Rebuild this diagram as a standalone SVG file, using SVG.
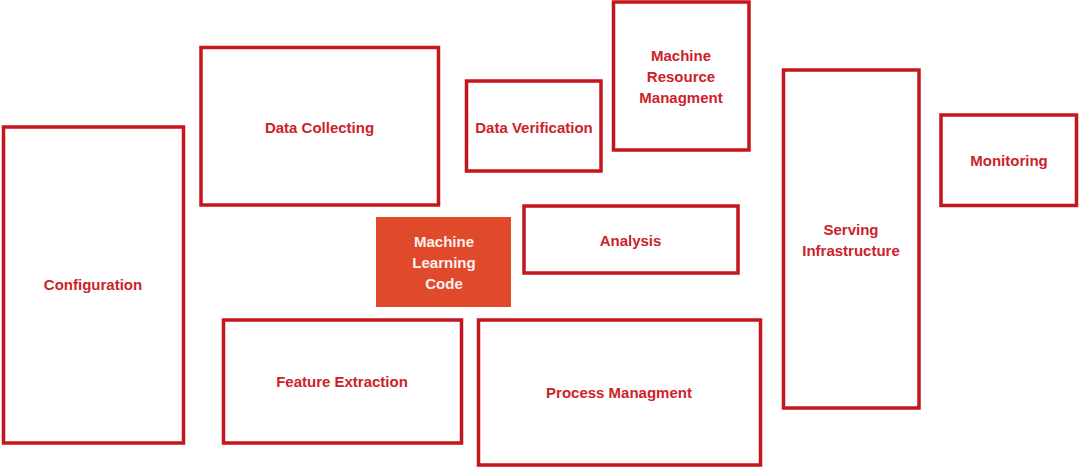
<svg xmlns="http://www.w3.org/2000/svg" width="1080" height="469" viewBox="0 0 1080 469">
<style>
.box{fill:#ffffff;stroke:#c4161c;stroke-width:3.5}
.lbl{font-family:"Liberation Sans",Arial,sans-serif;font-weight:bold;font-size:15px;fill:#cc2229;text-anchor:middle;dominant-baseline:central}
.core{fill:#e04a2b}
.wlbl{font-family:"Liberation Sans",Arial,sans-serif;font-weight:bold;font-size:15px;fill:#fdf0ee;text-anchor:middle;dominant-baseline:central}
</style>
<rect width="1080" height="469" fill="#ffffff"/>
<g id="configuration"><rect class="box" x="3.5" y="127" width="180" height="316"/><text class="lbl" x="93" y="284">Configuration</text></g>
<g id="data-collecting"><rect class="box" x="201" y="47.5" width="237.5" height="157.5"/><text class="lbl" x="319.5" y="127">Data Collecting</text></g>
<g id="data-verification"><rect class="box" x="466.5" y="81" width="134.5" height="90"/><text class="lbl" x="534" y="127">Data Verification</text></g>
<g id="machine-resource"><rect class="box" x="613.5" y="2" width="135.5" height="148"/><text class="lbl" x="681" y="55">Machine</text><text class="lbl" x="681" y="76">Resource</text><text class="lbl" x="681" y="97">Managment</text></g>
<g id="serving"><rect class="box" x="783.5" y="70" width="135.5" height="338"/><text class="lbl" x="851" y="229">Serving</text><text class="lbl" x="851" y="250">Infrastructure</text></g>
<g id="monitoring"><rect class="box" x="941" y="115" width="135.5" height="90.5"/><text class="lbl" x="1009" y="160.5">Monitoring</text></g>
<g id="analysis"><rect class="box" x="524" y="206" width="214" height="67"/><text class="lbl" x="630.5" y="240">Analysis</text></g>
<g id="ml-code"><rect class="core" x="376" y="217" width="135" height="90"/><text class="wlbl" x="444" y="241">Machine</text><text class="wlbl" x="444" y="262">Learning</text><text class="wlbl" x="444" y="283">Code</text></g>
<g id="feature-extraction"><rect class="box" x="223.5" y="320" width="238" height="123"/><text class="lbl" x="342" y="381">Feature Extraction</text></g>
<g id="process-managment"><rect class="box" x="478.5" y="320" width="282" height="145"/><text class="lbl" x="619" y="392">Process Managment</text></g>
<g id="connectors"></g>
</svg>
